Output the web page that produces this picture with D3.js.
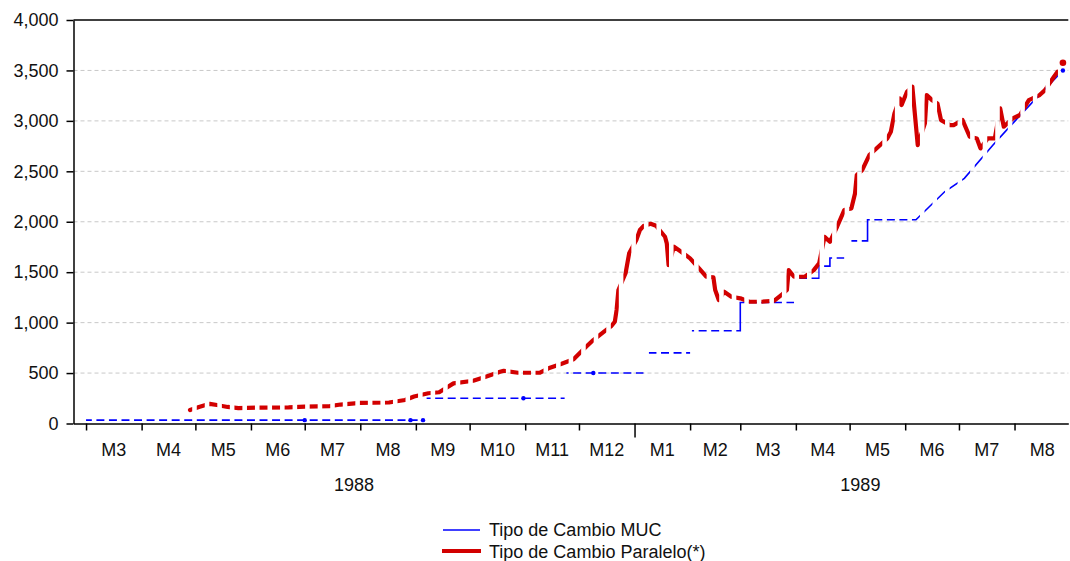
<!DOCTYPE html>
<meta charset="utf-8">
<style>
body { margin: 0; background: #fff; }
text { font-family: "Liberation Sans", Arial, sans-serif; font-size: 18px; fill: #111; }
.grid line { stroke: #c8c8c8; stroke-width: 1px; stroke-dasharray: 4,3; }
.axis path, .axis line { stroke: #000; stroke-width: 1.5px; }
.muc { fill: none; stroke: #0000ff; stroke-width: 1.6px; clip-path: url(#weekdays); }
.paralelo { fill: none; stroke: #d20000; stroke-width: 4.2px; stroke-linejoin: round; stroke-linecap: round; clip-path: url(#weekdays); }
</style>
<svg width="1070" height="561"></svg>
<script src="https://d3js.org/d3.v7.min.js"></script>
<script>

// y axis ticks
var yTicks = [0, 500, 1000, 1500, 2000, 2500, 3000, 3500, 4000];

// month labels, one per month from March 1988 to August 1989
var monthLabels = ["M3", "M4", "M5", "M6", "M7", "M8", "M9", "M10", "M11", "M12",
                   "M1", "M2", "M3", "M4", "M5", "M6", "M7", "M8"];
var yearLabels = ["1988", "1989"];

// Tipo de Cambio MUC (null = break in the series)
var mucDates = ["1988-03-01", "1988-09-02", "",
  "1988-09-07", "1988-11-23", "",
  "1988-11-24", "1989-01-06", "",
  "1989-01-09", "1989-02-01", "",
  "1989-02-02", "1989-03-01", "1989-03-01", "1989-03-31", "",
  "1989-04-03", "1989-04-14", "1989-04-14", "1989-04-20", "1989-04-20", "1989-04-28", "",
  "1989-05-02", "1989-05-11", "1989-05-11", "1989-06-07",
  "1989-06-23", "1989-07-04", "1989-07-20", "1989-07-31", "1989-08-13", "1989-08-28"];
var mucValues = [33, 33, null,
  250, 250, null,
  500, 500, null,
  700, 700, null,
  920, 920, 1200, 1200, null,
  1440, 1440, 1560, 1560, 1640, 1640, null,
  1810, 1810, 2020, 2020,
  2297, 2430, 2760, 2975, 3223, 3500];

// isolated MUC observations
var mucDotDates = ["1988-07-01", "1988-08-29", "1988-09-05", "1988-10-31", "1988-12-09", "1989-08-28"];
var mucDotValues = [33, 33, 33, 250, 500, 3500];

// Tipo de Cambio Paralelo(*)
var paraleloDates = ["1988-04-28", "1988-05-03", "1988-05-09", "1988-05-13", "1988-05-19", "1988-05-25",
  "1988-06-06", "1988-06-22", "1988-07-01", "1988-07-15", "1988-07-21", "1988-08-01", "1988-08-17",
  "1988-08-26", "1988-08-31", "1988-09-08", "1988-09-14", "1988-09-22", "1988-10-03", "1988-10-10",
  "1988-10-18", "1988-10-20", "1988-10-28", "1988-11-09", "1988-11-14", "1988-11-21", "1988-11-28",
  "1988-12-05", "1988-12-09", "1988-12-15", "1988-12-19", "1988-12-21", "1988-12-22", "1988-12-23",
  "1988-12-27", "1988-12-29", "1989-01-02", "1989-01-04", "1989-01-06", "1989-01-10", "1989-01-13",
  "1989-01-18", "1989-01-19", "1989-01-20", "1989-01-23", "1989-01-27", "1989-02-01", "1989-02-06",
  "1989-02-10", "1989-02-14", "1989-02-15", "1989-02-17", "1989-02-20", "1989-02-24", "1989-03-01",
  "1989-03-06", "1989-03-13", "1989-03-20", "1989-03-24", "1989-03-27", "1989-03-28", "1989-03-31",
  "1989-04-06", "1989-04-11", "1989-04-14", "1989-04-17", "1989-04-20", "1989-04-24", "1989-04-28",
  "1989-05-02", "1989-05-04", "1989-05-05", "1989-05-08", "1989-05-12", "1989-05-17", "1989-05-22",
  "1989-05-24", "1989-05-26", "1989-05-29", "1989-05-30", "1989-06-02", "1989-06-05", "1989-06-08",
  "1989-06-12", "1989-06-13", "1989-06-16", "1989-06-19", "1989-06-21", "1989-06-26", "1989-06-28",
  "1989-07-03", "1989-07-07", "1989-07-11", "1989-07-13", "1989-07-17", "1989-07-21", "1989-07-24",
  "1989-07-26", "1989-07-31", "1989-08-04", "1989-08-09", "1989-08-15", "1989-08-18", "1989-08-23",
  "1989-08-25"];
var paraleloValues = [134, 164, 195, 183, 164, 152,
  158, 160, 168, 173, 188, 205, 208,
  233, 268, 300, 310, 398, 424, 464,
  513, 523, 503, 503, 547, 590, 636,
  761, 827, 910, 966, 1009, 1125, 1323,
  1489, 1687, 1819, 1918, 1957, 1980, 1960,
  1851, 1786, 1571, 1752, 1703, 1637, 1538,
  1455, 1449, 1323, 1224, 1306, 1257, 1241,
  1207, 1207, 1217, 1274, 1323, 1521, 1455,
  1455, 1521, 1588, 1850, 1802, 1950, 2116,
  2133, 2281, 2463, 2512, 2661, 2743, 2826,
  2892, 3074, 3223, 3157, 3289, 3338, 2760,
  2975, 3256, 3206, 3173, 3008, 2958, 2958,
  3008, 2843, 2826, 2727, 2826, 2826, 3124,
  2942, 3025, 3058, 3206, 3256, 3305, 3437,
  3487];
var paraleloDotDates = ["1989-08-28"];
var paraleloDotValues = [3576];

var parseDate = d3.timeParse("%Y-%m-%d");

function pairs(dates, values) {
  return dates.map(function(d, i) { return {date: parseDate(d), value: values[i]}; });
}
var muc = pairs(mucDates, mucValues),
    mucDots = pairs(mucDotDates, mucDotValues),
    paralelo = pairs(paraleloDates, paraleloValues),
    paraleloDots = pairs(paraleloDotDates, paraleloDotValues);

var svg = d3.select("svg");

var plotLeft = 73.5, plotRight = 1068.3, plotTop = 20, plotBottom = 423.5;

var x = d3.scaleTime()
    .domain([new Date(1988, 1, 23), new Date(1989, 7, 31)])
    .range([plotLeft, plotRight]);
var y = d3.scaleLinear().domain([0, 4000]).range([plotBottom, plotTop]);

// weekday stripes: the daily series has no observations on weekends
var clip = svg.append("defs").append("clipPath").attr("id", "weekdays");
d3.timeMonday.range(new Date(1988, 1, 15), new Date(1989, 8, 5)).forEach(function(mon) {
  var fri = d3.timeDay.offset(mon, 4);
  clip.append("rect")
      .attr("x", x(mon) - 0.4)
      .attr("width", x(fri) - x(mon) + 0.8)
      .attr("y", 0)
      .attr("height", 561);
});

// grid
svg.append("g").attr("class", "grid")
  .selectAll("line")
  .data(yTicks.filter(function(d) { return d > 0 && d < 4000; }))
  .enter().append("line")
    .attr("x1", plotLeft).attr("x2", plotRight)
    .attr("y1", function(d) { return y(d); })
    .attr("y2", function(d) { return y(d); });

// top frame line
svg.append("line")
    .attr("x1", plotLeft).attr("x2", plotRight)
    .attr("y1", y(4000)).attr("y2", y(4000))
    .attr("stroke", "#000").attr("stroke-width", 1.5);

// y axis
svg.append("g")
    .attr("class", "axis")
    .attr("transform", "translate(" + plotLeft + ",0)")
    .call(d3.axisLeft(y).tickValues(yTicks).tickSize(7).tickSizeOuter(0).tickPadding(8).tickFormat(d3.format(",")))
    .call(function(g) { g.selectAll("text").style("font-size", "18px").style("font-family", "Liberation Sans, Arial, sans-serif").attr("fill", "#111"); });

// x axis
var monthStarts = d3.timeMonth.range(new Date(1988, 2, 1), new Date(1989, 8, 1));
var xg = svg.append("g")
    .attr("class", "axis")
    .attr("transform", "translate(0," + plotBottom + ")")
    .call(d3.axisBottom(x).tickValues(monthStarts).tickSize(7).tickSizeOuter(0).tickFormat(""));
xg.selectAll(".tick line")
    .filter(function(d) { return d.getMonth() === 0; })
    .attr("y2", 14);

svg.append("g").selectAll("text")
  .data(monthStarts)
  .enter().append("text")
    .attr("x", function(d) { return (x(d) + x(d3.timeMonth.offset(d, 1))) / 2; })
    .attr("y", 456)
    .attr("text-anchor", "middle")
    .text(function(d, i) { return monthLabels[i]; });

var yearSpans = [[x.domain()[0], new Date(1989, 0, 1)], [new Date(1989, 0, 1), new Date(1989, 8, 10)]];
svg.append("g").selectAll("text")
  .data(yearLabels)
  .enter().append("text")
    .attr("x", function(d, i) { return (x(yearSpans[i][0]) + x(yearSpans[i][1])) / 2; })
    .attr("y", 491)
    .attr("text-anchor", "middle")
    .text(function(d) { return d; });

// series
var line = d3.line()
    .defined(function(d) { return d.value != null; })
    .x(function(d) { return x(d.date); })
    .y(function(d) { return y(d.value); });

svg.append("path").datum(muc).attr("class", "muc").attr("d", line);
svg.append("g").selectAll("circle")
  .data(mucDots)
  .enter().append("circle")
    .attr("cx", function(d) { return x(d.date); })
    .attr("cy", function(d) { return y(d.value); })
    .attr("r", 2.2)
    .attr("fill", "#0000ff");

svg.append("path").datum(paralelo).attr("class", "paralelo").attr("d", line);
svg.append("g").selectAll("circle")
  .data(paraleloDots)
  .enter().append("circle")
    .attr("cx", function(d) { return x(d.date); })
    .attr("cy", function(d) { return y(d.value); })
    .attr("r", 3.3)
    .attr("fill", "#d20000");

// legend
var legend = svg.append("g");
legend.append("line").attr("x1", 443).attr("x2", 480).attr("y1", 530).attr("y2", 530)
    .attr("stroke", "#0000ff").attr("stroke-width", 1.6);
legend.append("text").attr("x", 489).attr("y", 536).text("Tipo de Cambio MUC");
legend.append("line").attr("x1", 442).attr("x2", 481).attr("y1", 551).attr("y2", 551)
    .attr("stroke", "#d20000").attr("stroke-width", 4);
legend.append("text").attr("x", 489).attr("y", 558).text("Tipo de Cambio Paralelo(*)");

</script>
